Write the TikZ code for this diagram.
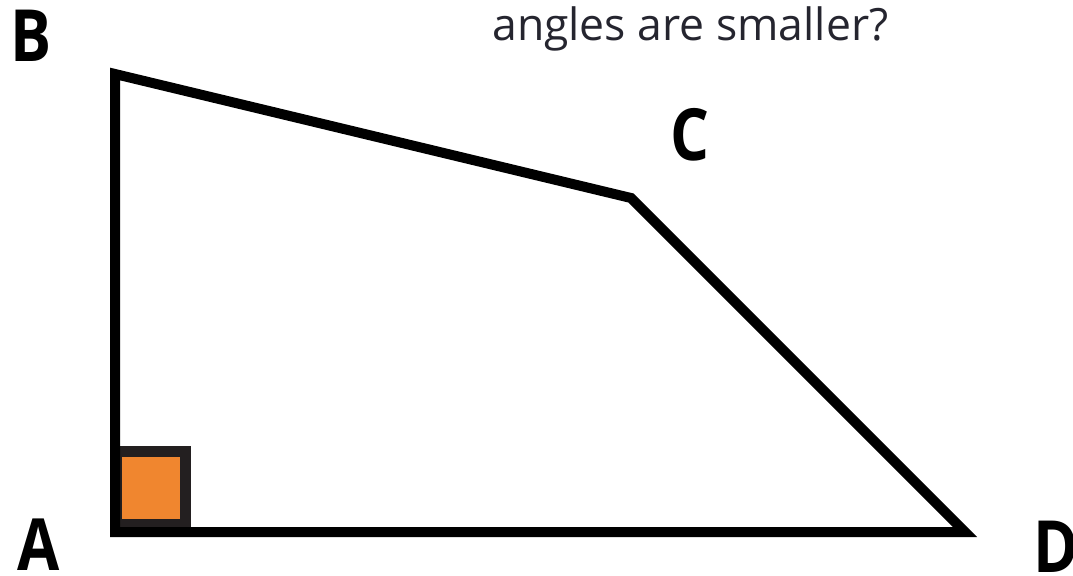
\documentclass[tikz,border=0pt]{standalone}
\usepackage{fontspec}
\setmainfont{Open Sans}
\definecolor{sqorange}{HTML}{F0862F}
\definecolor{sqborder}{HTML}{231F20}
\definecolor{txtdark}{HTML}{25252F}
\begin{document}
\begin{tikzpicture}[x=0.75pt,y=-0.75pt,
  shapeline/.style={line width=7.5pt,black,line join=miter},
  vlabel/.style={font=\fontsize{54}{54}\selectfont\bfseries,inner sep=0pt,anchor=center},
  question/.style={font=\fontsize{33}{33}\selectfont,text=txtdark,inner sep=0pt,anchor=base west}]
\useasboundingbox (0,0) rectangle (1073,575);
% right angle marker
\draw[line width=8.25pt,draw=sqborder,fill=sqorange] (116,451) rectangle (185,524);
% quadrilateral
\coordinate (A) at (115,532);
\coordinate (B) at (115,74);
\coordinate (C) at (631,198);
\coordinate (D) at (965,532);
\draw[shapeline] (A) -- (B) -- (C) -- (D) -- cycle;
% vertex labels
\node[vlabel] (lB) at (31,36) {\scalebox{0.85}[1]{B}};
\node[vlabel] (lC) at (690,135) {\scalebox{0.85}[1]{C}};
\node[vlabel] (lA) at (38.5,545) {\scalebox{0.85}[1]{A}};
\node[vlabel] (lD) at (1056,547) {\scalebox{0.85}[1]{D}};
% question text
\node[question] (q) at (492,40) {\resizebox{297pt}{!}{angles are smaller?}};
\end{tikzpicture}
\end{document}
